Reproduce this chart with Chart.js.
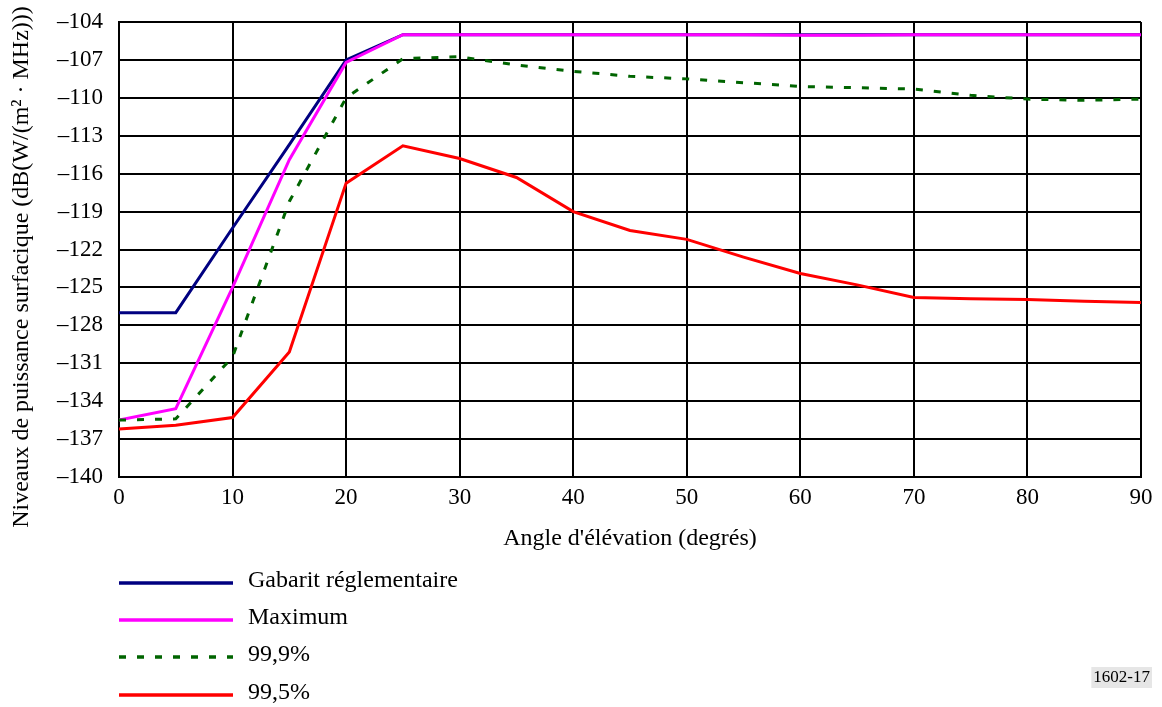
<!DOCTYPE html>
<html>
<head>
<meta charset="utf-8">
<script src="https://cdn.jsdelivr.net/npm/chart.js@4.4.1/dist/chart.umd.min.js"></script>
<style>
  html, body { margin: 0; padding: 0; background: #fff; }
  #wrap { width: 1162px; height: 707px; }
</style>
</head>
<body>
<div id="wrap"><canvas id="pfdChart" width="1162" height="707"></canvas></div>
<script>
'use strict'

const angles = [0, 5, 10, 15, 20, 25, 30, 35, 40, 45, 50, 55, 60, 65, 70, 75, 80, 85, 90];
const gabarit = [-127, -127, -120.3, -113.7, -107, -105, -105, -105, -105, -105, -105, -105, -105, -105, -105, -105, -105, -105, -105];
const maximum = [-135.5, -134.6, -125, -114.9, -107.2, -105, -105, -105, -105, -105, -105, -105, -105.05, -105.05, -105, -105, -105, -105, -105];
const p999 = [-135.5, -135.4, -130.5, -118.2, -110, -106.9, -106.75, -107.4, -107.9, -108.3, -108.5, -108.8, -109.1, -109.2, -109.3, -109.8, -110.1, -110.2, -110.1];
const p995 = [-136.2, -135.9, -135.3, -130.1, -116.75, -113.8, -114.8, -116.3, -119, -120.5, -121.2, -122.6, -123.9, -124.8, -125.8, -125.9, -125.95, -126.1, -126.2];

const xTitle = "Angle d'élévation (degrés)";
const yTitle = 'Niveaux de puissance surfacique (dB(W/(m² · MHz)))';
const figureRef = '1602-17';
const serif = "'Liberation Serif', 'Times New Roman', serif";

function toPoints(values){
    let pts = [];
    for(let i = 0; i < angles.length; i++){
        pts.push({x: angles[i], y: values[i]});
    }
    return pts;
}

function makeDataset(label, values, color, order, dash){
    return {
        label: label,
        data: toPoints(values),
        borderColor: color,
        backgroundColor: color,
        borderWidth: 3,
        borderDash: dash || [],
        pointRadius: 0,
        tension: 0,
        order: order
    };
}

// legend drawn as a vertical list under the axis, plus the y title and figure number
const extrasPlugin = {
    id: 'extras',
    afterDraw(chart){
        const ctx = chart.ctx;
        const area = chart.chartArea;
        ctx.save();

        // y axis title
        ctx.fillStyle = '#000';
        ctx.font = '24px ' + serif;
        ctx.textAlign = 'center';
        ctx.textBaseline = 'middle';
        ctx.translate(22, 267);
        ctx.rotate(-Math.PI / 2);
        ctx.fillText(yTitle, 0, 0);
        ctx.setTransform(1, 0, 0, 1, 0, 0);

        // legend
        const rows = [583, 620, 657, 695];
        const ds = chart.data.datasets;
        for(let i = 0; i < ds.length; i++){
            ctx.beginPath();
            ctx.strokeStyle = ds[i].borderColor;
            ctx.lineWidth = 3.5;
            ctx.setLineDash(ds[i].borderDash);
            ctx.moveTo(area.left, rows[i]);
            ctx.lineTo(area.left + 114, rows[i]);
            ctx.stroke();
            ctx.setLineDash([]);
            ctx.fillStyle = '#000';
            ctx.font = '24px ' + serif;
            ctx.textAlign = 'left';
            ctx.textBaseline = 'middle';
            ctx.fillText(ds[i].label, 248, rows[i] - 2);
        }

        // figure number box
        ctx.font = '17px ' + serif;
        ctx.textBaseline = 'middle';
        const w = ctx.measureText(figureRef).width;
        ctx.fillStyle = '#e6e6e6';
        ctx.fillRect(1152 - w - 4, 667, w + 4, 21);
        ctx.fillStyle = '#000';
        ctx.textAlign = 'right';
        ctx.fillText(figureRef, 1150, 678);
        ctx.restore();
    }
};

const config = {
    type: 'line',
    data: {
        datasets: [
            makeDataset('Gabarit réglementaire', gabarit, '#000080', 4),
            makeDataset('Maximum', maximum, '#ff00ff', 3),
            makeDataset('99,9%', p999, '#006400', 2, [7, 11]),
            makeDataset('99,5%', p995, '#ff0000', 1)
        ]
    },
    options: {
        responsive: false,
        animation: false,
        layout: {
            padding: {left: 0, top: 22, right: 21, bottom: 150}
        },
        plugins: {
            legend: {display: false},
            tooltip: {enabled: false}
        },
        scales: {
            x: {
                type: 'linear',
                min: 0,
                max: 90,
                afterFit: (scale) => {
                    scale.height = 80;
                    scale.paddingLeft = 0;
                    scale.paddingRight = 0;
                },
                ticks: {
                    stepSize: 10,
                    padding: 7,
                    color: '#000',
                    font: {family: serif, size: 23}
                },
                grid: {color: '#000', lineWidth: 2, drawTicks: false},
                border: {color: '#000', width: 2},
                title: {
                    display: true,
                    text: xTitle,
                    color: '#000',
                    font: {family: serif, size: 24}
                }
            },
            y: {
                min: -140,
                max: -104,
                afterFit: (scale) => {
                    scale.width = 119;
                    scale.paddingTop = 0;
                    scale.paddingBottom = 0;
                },
                ticks: {
                    stepSize: 3,
                    padding: 16,
                    color: '#000',
                    font: {family: serif, size: 23},
                    callback: (v) => '\u2013' + Math.abs(v)
                },
                grid: {color: '#000', lineWidth: 2, drawTicks: false},
                border: {color: '#000', width: 2}
            }
        }
    },
    plugins: [extrasPlugin]
};

const chart = new Chart(document.getElementById('pfdChart'), config);
</script>
</body>
</html>
